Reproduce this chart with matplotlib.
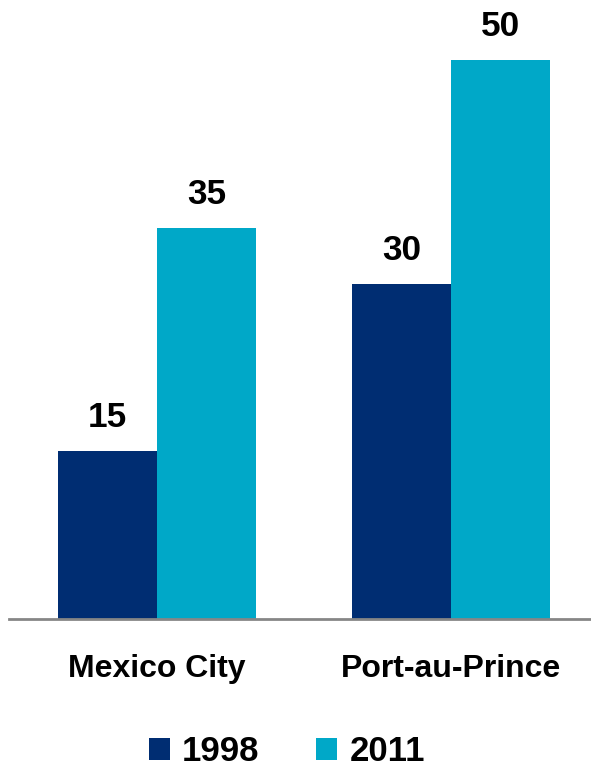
import matplotlib
matplotlib.use("Agg")
import matplotlib.pyplot as plt
import numpy as np

plt.rcParams['font.family'] = ['Liberation Sans', 'DejaVu Sans']
plt.rcParams['font.weight'] = 'bold'

# data
cities = ["Mexico City", "Port-au-Prince"]
years = ["1998", "2011"]
values_1998 = [15, 30]
values_2011 = [35, 50]
colors = ["#002D72", "#00A8C8"]

fig = plt.figure(figsize=(5.91, 7.70), dpi=100)
ax = fig.add_axes([9 / 591, 1 - 619 / 770, 1 - 9 / 591, 619 / 770])

x = np.arange(len(cities))
width = 0.337
bars1 = ax.bar(x - width / 2, values_1998, width, color=colors[0], label=years[0])
bars2 = ax.bar(x + width / 2, values_2011, width, color=colors[1], label=years[1])

# value labels above the bars
for bars in (bars1, bars2):
    for b in bars:
        ax.annotate(str(int(b.get_height())),
                    (b.get_x() + b.get_width() / 2, b.get_height()),
                    xytext=(0, 17.3), textcoords="offset points",
                    ha="center", va="baseline", fontsize=25.4, fontweight="bold")

ax.set_xlim(-0.503, 1.476)
ax.set_ylim(0, 55.4)
ax.set_xticks(x)
ax.set_xticklabels(cities, fontsize=23, fontweight="bold")
ax.tick_params(axis="x", length=0, pad=25)
ax.set_yticks([])
for s in ["top", "left", "right"]:
    ax.spines[s].set_visible(False)
ax.spines["bottom"].set_color("#868686")
ax.spines["bottom"].set_linewidth(2)

fig.legend(loc="lower center", bbox_to_anchor=(287 / 591, -0.02), ncol=2,
           frameon=False, handlelength=0.6, handleheight=0.6,
           handletextpad=0.35, columnspacing=1.64, borderpad=0,
           prop={"size": 25, "weight": "bold"})

fig.savefig("out.png", dpi=100)
